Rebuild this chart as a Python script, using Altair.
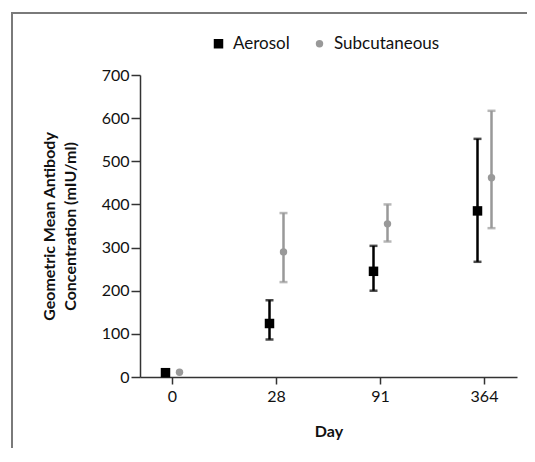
import altair as alt
import pandas as pd

days = ["0", "28", "91", "364"]
series_names = ["Aerosol", "Subcutaneous"]
aerosol_gmc = [10, 124, 245, 385]
aerosol_lo = [None, 87, 200, 267]
aerosol_hi = [None, 178, 304, 552]
subcut_gmc = [11, 290, 355, 462]
subcut_lo = [None, 220, 314, 345]
subcut_hi = [None, 380, 400, 617]

rows = []
for i, d in enumerate(days):
    rows.append({"day": d, "series": "Aerosol", "gmc": aerosol_gmc[i], "lo": aerosol_lo[i], "hi": aerosol_hi[i]})
for i, d in enumerate(days):
    rows.append({"day": d, "series": "Subcutaneous", "gmc": subcut_gmc[i], "lo": subcut_lo[i], "hi": subcut_hi[i]})
df = pd.DataFrame(rows)

FONT = "Lato"
colors = ["#000000", "#999999"]

x_enc = alt.X(
    "day:N",
    sort=days,
    scale=alt.Scale(paddingInner=0.5, paddingOuter=0.0625),
    axis=alt.Axis(
        title="Day", labelAngle=0, tickSize=7, labelPadding=4, titlePadding=19,
        domainColor="#333333", tickColor="#333333", domainWidth=1.5, tickWidth=1.5,
        labelFontSize=16, titleFontSize=16, titleFontWeight="bold", labelColor="#111111",
        titleColor="#111111",
    ),
)
xoff_enc = alt.XOffset("series:N", sort=series_names,
                       scale=alt.Scale(domain=series_names, paddingInner=0, paddingOuter=0.857))
y_scale = alt.Scale(domain=[0, 700], nice=False)
y_axis = alt.Axis(
    title=["Geometric Mean Antibody", "Concentration (mIU/ml)"],
    values=[0, 100, 200, 300, 400, 500, 600, 700], tickSize=9, labelPadding=2,
    domainColor="#333333", tickColor="#333333", domainWidth=1.5, tickWidth=1.5,
    labelFontSize=16, titleFontSize=16, titleFontWeight="bold", labelColor="#111111",
    titleColor="#111111", grid=False, titleLineHeight=21, titleX=-83, titleBaseline="bottom",
)

base = alt.Chart(df)

layers = []
for name, col in zip(series_names, colors):
    sub = base.transform_filter(alt.datum.series == name)
    layers.append(sub.mark_rule(strokeWidth=2.5, color=col).encode(
        x=x_enc, xOffset=xoff_enc,
        y=alt.Y("lo:Q", scale=y_scale, axis=y_axis), y2="hi:Q",
    ))
    layers.append(sub.mark_tick(size=8, thickness=2.5, color=col).encode(
        x=x_enc, xOffset=xoff_enc, y=alt.Y("lo:Q", scale=y_scale),
    ))
    layers.append(sub.mark_tick(size=8, thickness=2.5, color=col).encode(
        x=x_enc, xOffset=xoff_enc, y=alt.Y("hi:Q", scale=y_scale),
    ))

points = base.mark_point(filled=True, opacity=1).encode(
    x=x_enc, xOffset=xoff_enc,
    y=alt.Y("gmc:Q", scale=y_scale),
    color=alt.Color("series:N", scale=alt.Scale(domain=series_names, range=colors),
                    legend=alt.Legend(title=None, orient="none", legendX=70, legendY=-40,
                                      direction="horizontal", labelFontSize=17,
                                      labelFont=FONT, symbolSize=49, labelOffset=6,
                                      columnPadding=21, padding=0, labelColor="#111111",
                                      symbolStrokeWidth=0, symbolOpacity=1)),
    shape=alt.Shape("series:N", scale=alt.Scale(domain=series_names, range=["square", "circle"])),
    size=alt.Size("series:N", scale=alt.Scale(domain=series_names, range=[90, 55]), legend=None),
)
layers.append(points)

frame_df = pd.DataFrame({"k": [0]})
fbase = alt.Chart(frame_df)
layers.append(fbase.mark_rect(color="#000000", strokeWidth=0).encode(
    x=alt.value(-129), x2=alt.value(392), y=alt.value(-68.75), y2=alt.value(-67.25)))
layers.append(fbase.mark_rect(color="#7a7a7a", strokeWidth=0).encode(
    x=alt.value(-129), x2=alt.value(392), y=alt.value(-63), y2=alt.value(-61)))
layers.append(fbase.mark_rect(color="#7a7a7a", strokeWidth=0).encode(
    x=alt.value(-129), x2=alt.value(-127), y=alt.value(-63), y2=alt.value(380)))

chart = alt.layer(*layers).properties(
    width=377, height=302,
    autosize=alt.AutoSizeParams(type="none"),
    padding={"left": 132, "top": 67, "right": 10, "bottom": 71},
).configure(font=FONT).configure_view(stroke=None)

chart.save("out.html", embed_options={"renderer": "svg", "actions": False})
